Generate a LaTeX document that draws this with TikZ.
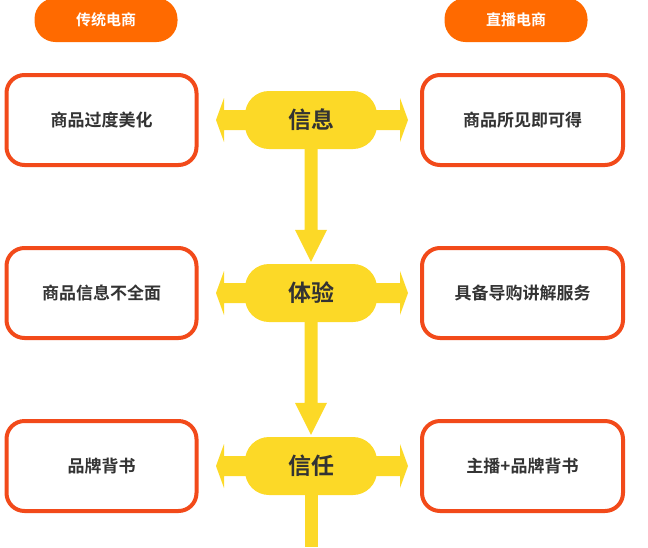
\documentclass[tikz,border=0pt]{standalone}
\usepackage{fontspec}
\newfontfamily\cjk{Noto Sans CJK SC}[BoldFont={Noto Sans CJK SC Bold}]
\usetikzlibrary{calc}
\definecolor{ora}{HTML}{F24A1A}
\definecolor{top}{HTML}{FF6A00}
\definecolor{yel}{HTML}{FCD927}
\definecolor{txt}{HTML}{333333}
\tikzset{
 side/.style={draw=ora,line width=4pt,fill=white,rounded corners=18pt,minimum width=190pt,minimum height=90pt,font=\cjk\bfseries\fontsize{17}{17}\selectfont,text=txt},
 hub/.style={fill=yel,rounded corners=24pt,minimum width=132pt,minimum height=58pt,font=\cjk\bfseries\fontsize{23}{23}\selectfont,text=txt},
 tag/.style={fill=top,rounded corners=21pt,minimum width=143pt,minimum height=44pt,font=\cjk\bfseries\fontsize{15}{15}\selectfont,text=white},
}
\begin{document}
\begin{tikzpicture}[x=1pt,y=-1pt]
\useasboundingbox (0,0) rectangle (648,547);
\node[tag] (t1) at (106,20) {传统电商};
\node[tag] (t2) at (516,20) {直播电商};
\foreach \i/\y/\a/\b/\c in {1/120/商品过度美化/信息/商品所见即可得,2/293/商品信息不全面/体验/具备导购讲解服务,3/466/品牌背书/信任/主播+品牌背书}{
 \node[side] (l\i) at (101.5,\y) {\a};
 \node[side,minimum width=201pt] (r\i) at (522.5,\y) {\c};
 \fill[yel] (216,\y) -- (224,\y-22) -- (224,\y-10) -- (400,\y-10) -- (400,\y-22) -- (408,\y) -- (400,\y+22) -- (400,\y+10) -- (224,\y+10) -- (224,\y+22) -- cycle;
 \node[hub] (h\i) at (311,\y) {\b};
}
\foreach \a/\b in {h1/h2,h2/h3}{
 \fill[yel] ($(\a.south)+(-6.5,-1)$) -- ($(\b.north)+(-6.5,-34)$) -- ($(\b.north)+(-16,-34)$) -- ($(\b.north)+(0,-2)$) -- ($(\b.north)+(16,-34)$) -- ($(\b.north)+(6.5,-34)$) -- ($(\a.south)+(6.5,-1)$) -- cycle;
}
\coordinate (e) at (311,547);
\fill[yel] ($(h3.south)+(-6.5,-1)$) rectangle ($(e)+(6.5,0)$);
\end{tikzpicture}
\end{document}
